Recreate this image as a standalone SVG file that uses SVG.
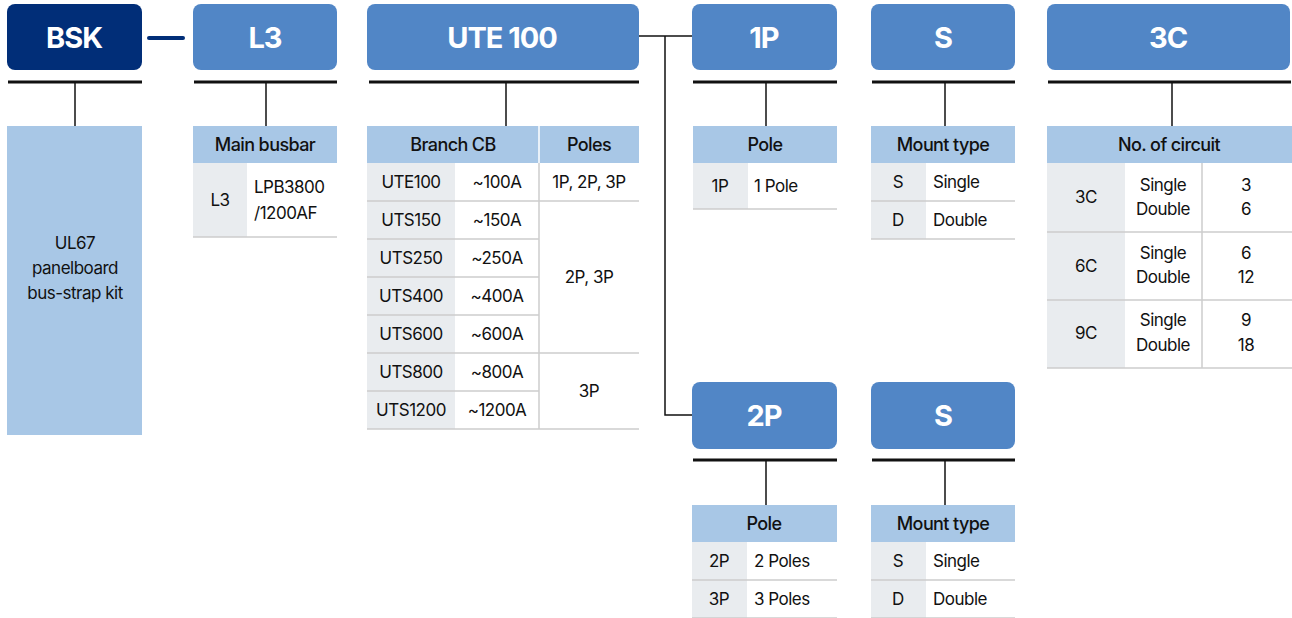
<svg xmlns="http://www.w3.org/2000/svg" width="1292" height="618" viewBox="0 0 1292 618">
<style>
.box{fill:#5186c6}
.navy{fill:#012e78}
.hdr{fill:#a8c7e6}
.gray{fill:#e9ecef}
.sep{stroke:#cdcdcd;stroke-width:1.5;fill:none}
.bar{stroke:#111;stroke-width:3;fill:none}
.stem{stroke:#111;stroke-width:1.5;fill:none}
.wsep{stroke:#ffffff;stroke-width:1.5}
.title{font-family:Inter,"Noto Sans",sans-serif;font-weight:700;font-size:29px;fill:#fff;text-anchor:middle;letter-spacing:-1px}
.th{font-family:Inter,"Noto Sans",sans-serif;font-weight:500;font-size:18px;fill:#111;text-anchor:middle;letter-spacing:-0.6px}
.td{font-family:Inter,"Noto Sans",sans-serif;font-size:17px;fill:#111;text-anchor:middle;letter-spacing:-0.5px}
.tl{text-anchor:start}
</style>

<g id="connectors">
  <line x1="149" y1="38" x2="183" y2="38" stroke="#012e78" stroke-width="4" stroke-linecap="round"/>
  <polyline class="stem" points="639,36 692,36"/>
  <polyline class="stem" points="665,36 665,415 692,415"/>
</g>

<g id="bsk">
  <rect class="navy" x="7" y="4" width="135" height="66" rx="8"/>
  <text class="title" x="74" y="48">BSK</text>
  <line class="bar" x1="8" y1="82" x2="142" y2="82"/>
  <line class="stem" x1="75" y1="82" x2="75" y2="126"/>
  <rect class="hdr" x="7" y="126" width="135" height="309"/>
  <text class="td" x="75" y="249">UL67</text>
  <text class="td" x="75" y="274">panelboard</text>
  <text class="td" x="75" y="299">bus-strap kit</text>
</g>

<g id="l3">
  <rect class="box" x="193" y="4" width="144" height="66" rx="8"/>
  <text class="title" x="265" y="48">L3</text>
  <line class="bar" x1="194" y1="82" x2="337" y2="82"/>
  <line class="stem" x1="266" y1="82" x2="266" y2="126"/>
  <rect class="hdr" x="193" y="126" width="144" height="37"/>
  <text class="th" x="265" y="151">Main busbar</text>
  <rect class="gray" x="193" y="163" width="54" height="74"/>
  <text class="td" x="220" y="206">L3</text>
  <text class="td tl" x="254" y="193">LPB3800</text>
  <text class="td tl" x="254" y="219">/1200AF</text>
  <line class="sep" x1="193" y1="237" x2="337" y2="237"/>
</g>

<g id="ute100">
  <rect class="box" x="367" y="4" width="272" height="66" rx="8"/>
  <text class="title" x="502" y="48">UTE 100</text>
  <line class="bar" x1="369" y1="82" x2="639" y2="82"/>
  <line class="stem" x1="506" y1="82" x2="506" y2="126"/>
  <rect class="hdr" x="367" y="126" width="272" height="37"/>
  <line class="wsep" x1="539" y1="126" x2="539" y2="163"/>
  <text class="th" x="453" y="151">Branch CB</text>
  <text class="th" x="589" y="151">Poles</text>
  <rect class="gray" x="367" y="163" width="88" height="266"/>
  <line class="sep" x1="367" y1="201" x2="639" y2="201"/>
  <line class="sep" x1="367" y1="239" x2="539" y2="239"/>
  <line class="sep" x1="367" y1="277" x2="539" y2="277"/>
  <line class="sep" x1="367" y1="315" x2="539" y2="315"/>
  <line class="sep" x1="367" y1="353" x2="639" y2="353"/>
  <line class="sep" x1="367" y1="391" x2="539" y2="391"/>
  <line class="sep" x1="367" y1="429" x2="639" y2="429"/>
  <line class="sep" x1="539" y1="163" x2="539" y2="429"/>
  <text class="td" x="411" y="188">UTE100</text><text class="td" x="497" y="188">~100A</text>
  <text class="td" x="411" y="226">UTS150</text><text class="td" x="497" y="226">~150A</text>
  <text class="td" x="411" y="264">UTS250</text><text class="td" x="497" y="264">~250A</text>
  <text class="td" x="411" y="302">UTS400</text><text class="td" x="497" y="302">~400A</text>
  <text class="td" x="411" y="340">UTS600</text><text class="td" x="497" y="340">~600A</text>
  <text class="td" x="411" y="378">UTS800</text><text class="td" x="497" y="378">~800A</text>
  <text class="td" x="411" y="416">UTS1200</text><text class="td" x="497" y="416">~1200A</text>
  <text class="td" x="589" y="188">1P, 2P, 3P</text>
  <text class="td" x="589" y="283">2P, 3P</text>
  <text class="td" x="589" y="397">3P</text>
</g>

<g id="p1">
  <rect class="box" x="692" y="4" width="145" height="66" rx="8"/>
  <text class="title" x="764" y="48">1P</text>
  <line class="bar" x1="693" y1="82" x2="837" y2="82"/>
  <line class="stem" x1="766" y1="82" x2="766" y2="126"/>
  <rect class="hdr" x="693" y="126" width="144" height="37"/>
  <text class="th" x="765" y="151">Pole</text>
  <rect class="gray" x="693" y="163" width="55" height="46"/>
  <text class="td" x="720" y="192">1P</text>
  <text class="td tl" x="754" y="192">1 Pole</text>
  <line class="sep" x1="693" y1="209" x2="837" y2="209"/>
</g>

<g id="s1">
  <rect class="box" x="871" y="4" width="144" height="66" rx="8"/>
  <text class="title" x="943" y="48">S</text>
  <line class="bar" x1="872" y1="82" x2="1015" y2="82"/>
  <line class="stem" x1="945" y1="82" x2="945" y2="126"/>
  <rect class="hdr" x="871" y="126" width="144" height="37"/>
  <text class="th" x="943" y="151">Mount type</text>
  <rect class="gray" x="871" y="163" width="55" height="76"/>
  <line class="sep" x1="871" y1="201" x2="1015" y2="201"/>
  <line class="sep" x1="871" y1="239" x2="1015" y2="239"/>
  <text class="td" x="898" y="188">S</text>
  <text class="td tl" x="933" y="188">Single</text>
  <text class="td" x="898" y="226">D</text>
  <text class="td tl" x="933" y="226">Double</text>
</g>

<g id="c3">
  <rect class="box" x="1047" y="4" width="243" height="66" rx="8"/>
  <text class="title" x="1168" y="48">3C</text>
  <line class="bar" x1="1048" y1="82" x2="1291" y2="82"/>
  <line class="stem" x1="1172" y1="82" x2="1172" y2="126"/>
  <rect class="hdr" x="1047" y="126" width="245" height="37"/>
  <text class="th" x="1169" y="151">No. of circuit</text>
  <rect class="gray" x="1047" y="163" width="78" height="205"/>
  <line class="sep" x1="1047" y1="232" x2="1292" y2="232"/>
  <line class="sep" x1="1047" y1="300" x2="1292" y2="300"/>
  <line class="sep" x1="1047" y1="368" x2="1292" y2="368"/>
  <line class="sep" x1="1202" y1="163" x2="1202" y2="368"/>
  <text class="td" x="1086" y="203">3C</text>
  <text class="td" x="1163" y="191">Single</text><text class="td" x="1163" y="215">Double</text>
  <text class="td" x="1246" y="191">3</text><text class="td" x="1246" y="215">6</text>
  <text class="td" x="1086" y="272">6C</text>
  <text class="td" x="1163" y="259">Single</text><text class="td" x="1163" y="283">Double</text>
  <text class="td" x="1246" y="259">6</text><text class="td" x="1246" y="283">12</text>
  <text class="td" x="1086" y="339">9C</text>
  <text class="td" x="1163" y="326">Single</text><text class="td" x="1163" y="351">Double</text>
  <text class="td" x="1246" y="326">9</text><text class="td" x="1246" y="351">18</text>
</g>

<g id="p2">
  <rect class="box" x="692" y="382" width="145" height="67" rx="8"/>
  <text class="title" x="764" y="426">2P</text>
  <line class="bar" x1="693" y1="460" x2="837" y2="460"/>
  <line class="stem" x1="766" y1="460" x2="766" y2="505"/>
  <rect class="hdr" x="692" y="505" width="145" height="37"/>
  <text class="th" x="764" y="530">Pole</text>
  <rect class="gray" x="692" y="542" width="55" height="76"/>
  <line class="sep" x1="692" y1="580" x2="837" y2="580"/>
  <line class="sep" x1="692" y1="618" x2="837" y2="618"/>
  <text class="td" x="719" y="567">2P</text>
  <text class="td tl" x="754" y="567">2 Poles</text>
  <text class="td" x="719" y="605">3P</text>
  <text class="td tl" x="754" y="605">3 Poles</text>
</g>

<g id="s2">
  <rect class="box" x="871" y="382" width="144" height="67" rx="8"/>
  <text class="title" x="943" y="426">S</text>
  <line class="bar" x1="872" y1="460" x2="1015" y2="460"/>
  <line class="stem" x1="945" y1="460" x2="945" y2="505"/>
  <rect class="hdr" x="871" y="505" width="144" height="37"/>
  <text class="th" x="943" y="530">Mount type</text>
  <rect class="gray" x="871" y="542" width="55" height="76"/>
  <line class="sep" x1="871" y1="580" x2="1015" y2="580"/>
  <line class="sep" x1="871" y1="618" x2="1015" y2="618"/>
  <text class="td" x="898" y="567">S</text>
  <text class="td tl" x="933" y="567">Single</text>
  <text class="td" x="898" y="605">D</text>
  <text class="td tl" x="933" y="605">Double</text>
</g>
</svg>
